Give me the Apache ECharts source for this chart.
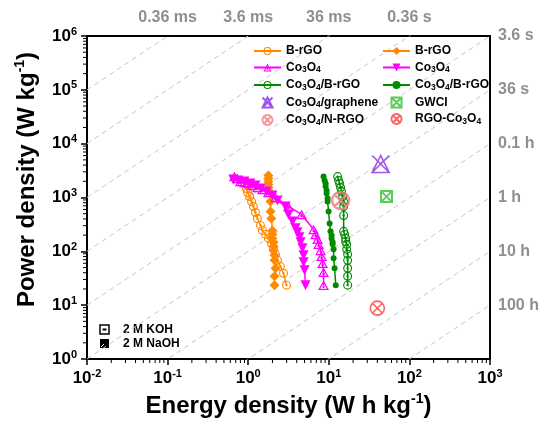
<!DOCTYPE html>
<html><head><meta charset="utf-8">
<script src="https://cdn.jsdelivr.net/npm/echarts@6/dist/echarts.min.js"></script>
<style>html,body{margin:0;padding:0;background:#fff}#c{width:543px;height:425px}</style>
</head><body><div id="c"></div>
<script>
// ---------- data (Energy density E in W h/kg, Power density P in W/kg) ----------
const E_BRGO_KOH = [0.95,0.98,1.04,1.10,1.16,1.23,1.30,1.42,1.50,1.64,1.78,1.94,2.06,2.18,2.31,2.51,2.74,2.99];
const P_BRGO_KOH = [1468,1238,1044,843,681,527,408,303,245,206,174,141,114,88,68,52.7,39.1,23.5];

const E_BRGO_NAOH = [1.78,1.78,1.78,1.78,1.78,1.835,1.89,1.89,1.94,2.00,2.00,2.00,2.06,2.06,2.06,2.12,2.12,2.18,2.12,2.12];
const P_BRGO_NAOH = [2555,2248,1978,1741,1532,1292,843,550,408,245,206,174,147,124,104,84.3,68,48.4,34.4,23.5];

const E_CO_KOH = [0.674,0.734,0.80,0.897,1.005,1.128,1.301,1.502,1.78,2.18,3.16,4.59,6.47,6.85,7.26,7.47,7.91,8.13,8.37,8.61,8.61];
const P_CO_KOH = [2448,2248,1978,1896,1816,1668,1532,1406,1238,1000,681,484,255,206,167,135,104,80.8,59.9,40.8,23.5];

const E_CO_NAOH = [0.654,0.755,0.897,1.065,1.23,1.42,1.684,2.0,2.31,2.90,3.16,3.55,3.86,4.09,4.33,4.46,4.72,4.86,4.86,5.00,5.14];
const P_CO_NAOH = [2154,2065,1978,1816,1668,1468,1292,1089,880,681,484,359,267,225,182,147,114,84.3,62.5,44.5,23.5];

const E_COB_KOH = [12.87,13.24,13.62,14.0,14.4,14.85,15.28,15.28,15.28,15.28,15.72,16.2,16.2,16.65,16.65,17.13,17.13,17.13,17.13,17.13];
const P_COB_KOH = [2448,2065,1816,1532,1292,1044,843,681,464,235,206,174,153,135,109,88,68,48.4,34.4,23.5];

const E_COB_NAOH = [8.61,8.87,9.13,9.13,9.39,9.39,9.66,9.66,9.94,10.23,10.5,10.83,10.83,11.15,11.15,11.47,11.47,11.8,12.2];
const P_COB_NAOH = [2448,2065,1816,1599,1348,1186,958,843,550,330,235,198,174,147,135,109,74.2,48.4,23.5];

const PT_GRAPHENE = [44, 4200];
const PT_GWCI = [52, 1040];
const PT_RGOCO = [40, 8.8];
const PT_NRGO = [14, 880];

// characteristic time lines (seconds) and their labels
const TIME_CONSTS = [3.6e-4, 3.6e-3, 0.036, 0.36, 3.6, 36, 360, 3600, 36000, 360000];
const TOP_LABEL_AT = [0.1, 1, 10, 100];
const TOP_LABELS = ['0.36 ms', '3.6 ms', '36 ms', '0.36 s'];
const RIGHT_LABEL_AT = [1e6, 1e5, 1e4, 1e3, 100, 10];
const RIGHT_LABELS = ['3.6 s', '36 s', '0.1 h', '1 h', '10 h', '100 h'];

const LEGEND_TEXT = {
  'B-rGO KOH':'{t|B-rGO}', 'B-rGO NaOH':'{t|B-rGO}',
  'Co3O4 KOH':'{t|Co}{s|3}{t|O}{s|4}', 'Co3O4 NaOH':'{t|Co}{s|3}{t|O}{s|4}',
  'Co3O4/B-rGO KOH':'{t|Co}{s|3}{t|O}{s|4}{t|/B-rGO}', 'Co3O4/B-rGO NaOH':'{t|Co}{s|3}{t|O}{s|4}{t|/B-rGO}',
  'Co3O4/graphene':'{t|Co}{s|3}{t|O}{s|4}{t|/graphene}', 'GWCI':'{t|GWCI}',
  'Co3O4/N-RGO':'{t|Co}{s|3}{t|O}{s|4}{t|/N-RGO}', 'RGO-Co3O4':'{t|RGO-Co}{s|3}{t|O}{s|4}'
};

// ---------- styling ----------
const FONT = 'Liberation Sans, Arial, sans-serif';
const ORANGE = '#ff8a00', MAGENTA = '#ff00ff', GREEN = '#008a00';
const RING = 'path://M10,0A10,10,0,1,1,-10,0A10,10,0,1,1,10,0ZM7.4,0A7.4,7.4,0,1,0,-7.4,0A7.4,7.4,0,1,0,7.4,0ZM2.6,0A2.6,2.6,0,1,1,-2.6,0A2.6,2.6,0,1,1,2.6,0Z';
const TRI = 'path://M0,-10L8.66,5L-8.66,5ZM0,-6L-5.2,3L5.2,3ZM1.9,0A1.9,1.9,0,1,1,-1.9,0A1.9,1.9,0,1,1,1.9,0Z';
const TRI_X = 'path://M0,-10L9,8L-9,8ZM-9,-10L9,8M9,-10L-9,8';
const SQ_X = 'path://M-10,-10L10,-10L10,10L-10,10ZM-10,-10L10,10M10,-10L-10,10';
const CIRC_X = 'path://M10,0A10,10,0,1,1,-10,0A10,10,0,1,1,10,0ZM-7,-7L7,7M7,-7L-7,7';

function pairs(E, P){ return E.map((e,i)=>[e, P[i]]); }
function sup10(v){ const e = Math.round(Math.log10(v)); return '{b|10}{s|' + e + '}'; }
function pick(at, labels){ return function(v){ for (let i=0;i<at.length;i++){ if (Math.abs(Math.log10(v)-Math.log10(at[i]))<1e-6) return labels[i]; } return ''; }; }
const tickRich = {
  b:{fontSize:17,fontWeight:'bold',fontFamily:FONT,color:'#000',lineHeight:20},
  s:{fontSize:11,fontWeight:'bold',fontFamily:FONT,color:'#000',lineHeight:12,verticalAlign:'top'}
};
const nameStyle = {fontSize:24,fontWeight:'bold',fontFamily:FONT,color:'#000',lineHeight:28,
  rich:{p:{fontSize:14,fontWeight:'bold',fontFamily:FONT,color:'#000',lineHeight:14,verticalAlign:'top'}}};

// minor tick positions (2..9 x each decade)
const xMinor = [], yMinor = [];
for (let d=-2; d<3; d++) for (let m=2; m<10; m++) xMinor.push(m * Math.pow(10, d));
for (let d=0; d<6; d++) for (let m=2; m<10; m++) yMinor.push(m * Math.pow(10, d));

const series = [];
TIME_CONSTS.forEach(t => {
  series.push({type:'line', xAxisIndex:0, yAxisIndex:0, silent:true, symbol:'none', z:1,
    data:[[0.01, 0.01*3600/t],[1000, 1000*3600/t]],
    lineStyle:{color:'#c4c4c4', width:1, type:[5,4]}, clip:true, animation:false});
});
function lineSeries(name, E, P, color, symbol, size, extra){
  return Object.assign({name, type:'line', xAxisIndex:0, yAxisIndex:0, data:pairs(E,P), z:3,
    symbol, symbolSize:size, symbolKeepAspect:true, showAllSymbol:true,
    lineStyle:{color, width:1.5}, itemStyle:{color, borderWidth:0}, animation:false}, extra||{});
}
series.push(lineSeries('B-rGO KOH', E_BRGO_KOH, P_BRGO_KOH, ORANGE, RING, 9));
series.push(lineSeries('B-rGO NaOH', E_BRGO_NAOH, P_BRGO_NAOH, ORANGE, 'diamond', 10));
series.push(lineSeries('Co3O4 KOH', E_CO_KOH, P_CO_KOH, MAGENTA, TRI, 11));
series.push(lineSeries('Co3O4 NaOH', E_CO_NAOH, P_CO_NAOH, MAGENTA, 'triangle', 10, {symbolRotate:180}));
series.push(lineSeries('Co3O4/B-rGO KOH', E_COB_KOH, P_COB_KOH, GREEN, RING, 9));
series.push(lineSeries('Co3O4/B-rGO NaOH', E_COB_NAOH, P_COB_NAOH, GREEN, 'circle', 6));
function pointSeries(name, pt, color, symbol, size, bw, fill){
  return {name, type:'scatter', xAxisIndex:0, yAxisIndex:0, data:[pt], z:4, symbol, symbolSize:size, symbolKeepAspect:true,
    itemStyle:{color: fill, borderColor:color, borderWidth:bw}, animation:false};
}
series.push(pointSeries('Co3O4/graphene', PT_GRAPHENE, '#8a2be2', TRI_X, 17, 1.6, 'rgba(255,255,255,0)'));
series.push(pointSeries('GWCI', PT_GWCI, '#2bc42b', SQ_X, 11, 2, '#ffffff'));
series.push(pointSeries('Co3O4/N-RGO', PT_NRGO, '#f47a7a', CIRC_X, 17, 2.5, 'rgba(255,255,255,0)'));
series.push(pointSeries('RGO-Co3O4', PT_RGOCO, '#ff3b3b', CIRC_X, 14, 1.6, 'rgba(255,255,255,0)'));

// minor ticks, positioned through the log axes
series.push({type:'custom', xAxisIndex:0, yAxisIndex:0, silent:true, clip:false, z:5, animation:false,
  data:xMinor.map(v=>[v]),
  renderItem:(params, api)=>{ const p = api.coord([api.value(0), 1]);
    return {type:'line', shape:{x1:p[0], y1:p[1]+1, x2:p[0], y2:p[1]+4}, style:{stroke:'#000', lineWidth:1}}; }});
series.push({type:'custom', xAxisIndex:0, yAxisIndex:0, silent:true, clip:false, z:5, animation:false,
  data:yMinor.map(v=>[0.01, v]),
  renderItem:(params, api)=>{ const p = api.coord([0.01, api.value(1)]);
    return {type:'line', shape:{x1:p[0]-1, y1:p[1], x2:p[0]-4, y2:p[1]}, style:{stroke:'#000', lineWidth:1}}; }});

const legendRich = {
  t:{fontSize:12,fontWeight:'bold',fontFamily:FONT,color:'#000',lineHeight:14},
  s:{fontSize:8.5,fontWeight:'bold',fontFamily:FONT,color:'#000',lineHeight:6,verticalAlign:'bottom'}
};
function legend(left, names){
  return {left, top:45, padding:0, orient:'vertical', itemWidth:27, itemHeight:10, itemGap:4.5, data:names,
    selectedMode:false, formatter:n=>LEGEND_TEXT[n], textStyle:{rich:legendRich}};
}

const option = {
  backgroundColor:'#fff',
  animation:false,
  grid:{left:87, right:53, top:36, bottom:64, show:true, borderColor:'#000', borderWidth:2},
  xAxis:[
    {type:'log', logBase:10, min:0.01, max:1000, splitNumber:5, position:'bottom',
     axisLine:{onZero:false, lineStyle:{color:'#000', width:2}},
     axisTick:{length:6, lineStyle:{color:'#000', width:1.5}},
     axisLabel:{formatter:sup10, rich:tickRich, margin:9, showMinLabel:true, showMaxLabel:true},
     splitLine:{show:false},
     name:'Energy density (W h kg{p|-1})', nameLocation:'middle', nameGap:33, nameTextStyle:nameStyle},
    {type:'log', logBase:10, min:0.01, max:1000, splitNumber:5, position:'top',
     axisLine:{show:false, onZero:false}, axisTick:{show:false}, splitLine:{show:false},
     axisLabel:{formatter:pick(TOP_LABEL_AT, TOP_LABELS), color:'#8f8f8f', fontSize:16, fontWeight:'bold', fontFamily:FONT, margin:10, showMinLabel:true, showMaxLabel:true}}
  ],
  yAxis:[
    {type:'log', logBase:10, min:1, max:1e6, splitNumber:6, position:'left',
     axisLine:{onZero:false, lineStyle:{color:'#000', width:2}},
     axisTick:{length:6, lineStyle:{color:'#000', width:1.5}},
     axisLabel:{formatter:sup10, rich:tickRich, margin:10, showMinLabel:true, showMaxLabel:true},
     splitLine:{show:false},
     name:'Power density (W kg{p|-1})', nameLocation:'middle', nameGap:43, nameRotate:90,
     nameTextStyle:Object.assign({}, nameStyle, {padding:[0,0,0,36]})},
    {type:'log', logBase:10, min:1, max:1e6, splitNumber:6, position:'right',
     axisLine:{show:false, onZero:false}, axisTick:{show:false}, splitLine:{show:false},
     axisLabel:{formatter:pick(RIGHT_LABEL_AT, RIGHT_LABELS), color:'#8f8f8f', fontSize:16, fontWeight:'bold', fontFamily:FONT, margin:8, padding:[0,0,10,0], showMinLabel:true, showMaxLabel:true}}
  ],
  legend:[
    legend(253, ['B-rGO KOH','Co3O4 KOH','Co3O4/B-rGO KOH','Co3O4/graphene','Co3O4/N-RGO']),
    legend(382, ['B-rGO NaOH','Co3O4 NaOH','Co3O4/B-rGO NaOH','GWCI','RGO-Co3O4'])
  ],
  graphic:[
    {type:'rect', shape:{x:100, y:325, width:9, height:9}, style:{fill:'#fff', stroke:'#000', lineWidth:1.5}},
    {type:'rect', shape:{x:102.5, y:328.5, width:4, height:2}, style:{fill:'#000'}},
    {type:'text', left:123, top:324, style:{text:'2 M KOH', font:'bold 12px ' + FONT, fill:'#000'}},
    {type:'rect', shape:{x:100, y:339, width:9, height:9}, style:{fill:'#000'}},
    {type:'line', shape:{x1:101, y1:347, x2:104, y2:344}, style:{stroke:'#fff', lineWidth:1}},
    {type:'text', left:123, top:338, style:{text:'2 M NaOH', font:'bold 12px ' + FONT, fill:'#000'}}
  ],
  series
};
const chart = echarts.init(document.getElementById('c'), null, {renderer:'canvas'});
chart.setOption(option);
</script>
</body></html>
